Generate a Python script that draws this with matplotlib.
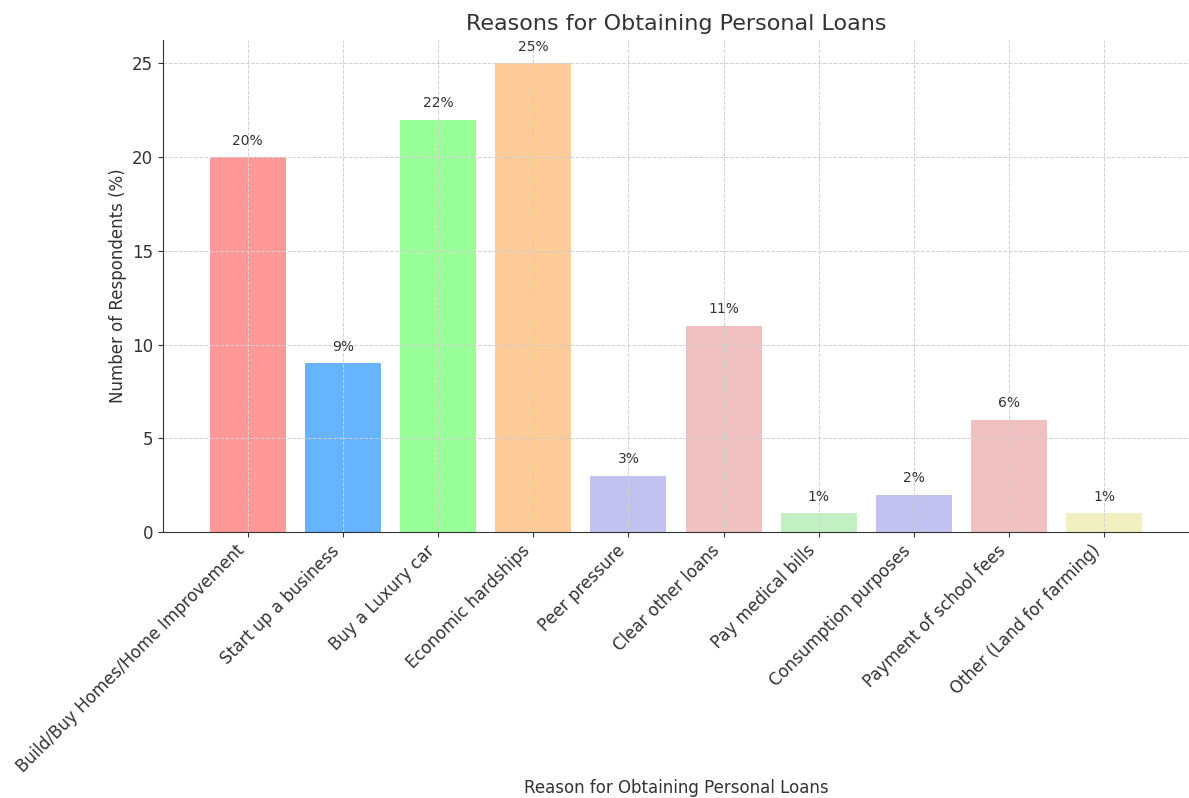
import matplotlib.pyplot as plt

reasons = [
    "Build/Buy Homes/Home Improvement",
    "Start up a business",
    "Buy a Luxury car",
    "Economic hardships",
    "Peer pressure",
    "Clear other loans",
    "Pay medical bills",
    "Consumption purposes",
    "Payment of school fees",
    "Other (Land for farming)",
]
respondents = [20, 9, 22, 25, 3, 11, 1, 2, 6, 1]
colors = [
    "#ff9999", "#66b3ff", "#99ff99", "#ffcc99", "#c2c2f0",
    "#f0c0c0", "#c2f0c2", "#c2c2f0", "#f0c0c0", "#f0f0c0",
]

text_color = "#333333"
plt.rcParams["text.color"] = text_color
plt.rcParams["axes.labelcolor"] = text_color
plt.rcParams["xtick.color"] = text_color
plt.rcParams["ytick.color"] = text_color

fig = plt.figure(figsize=(11.89, 7.98), dpi=100)
ax = fig.add_axes([163 / 1189, 1 - 532 / 798, (1189 - 163) / 1189, (532 - 40) / 798])

bars = ax.bar(reasons, respondents, color=colors, width=0.8)
for b, v in zip(bars, respondents):
    ax.text(b.get_x() + b.get_width() / 2, v + 0.5, f"{v}%",
            ha="center", va="bottom", fontsize=10)

ax.set_title("Reasons for Obtaining Personal Loans", fontsize=16, pad=7)
ax.set_xlabel("Reason for Obtaining Personal Loans", fontsize=12)
ax.xaxis.set_label_coords(0.5, -0.503)
ax.set_ylabel("Number of Respondents (%)", fontsize=12)
ax.set_xticks(range(len(reasons)))
ax.set_xticklabels(reasons, rotation=45, ha="right", fontsize=12)
ax.tick_params(axis="y", labelsize=12)
ax.grid(True, linestyle="--", color="#d0d0d0", linewidth=0.7)
for s in ["top", "right"]:
    ax.spines[s].set_visible(False)
for s in ["left", "bottom"]:
    ax.spines[s].set_color(text_color)

fig.savefig("out.png", dpi=100)
